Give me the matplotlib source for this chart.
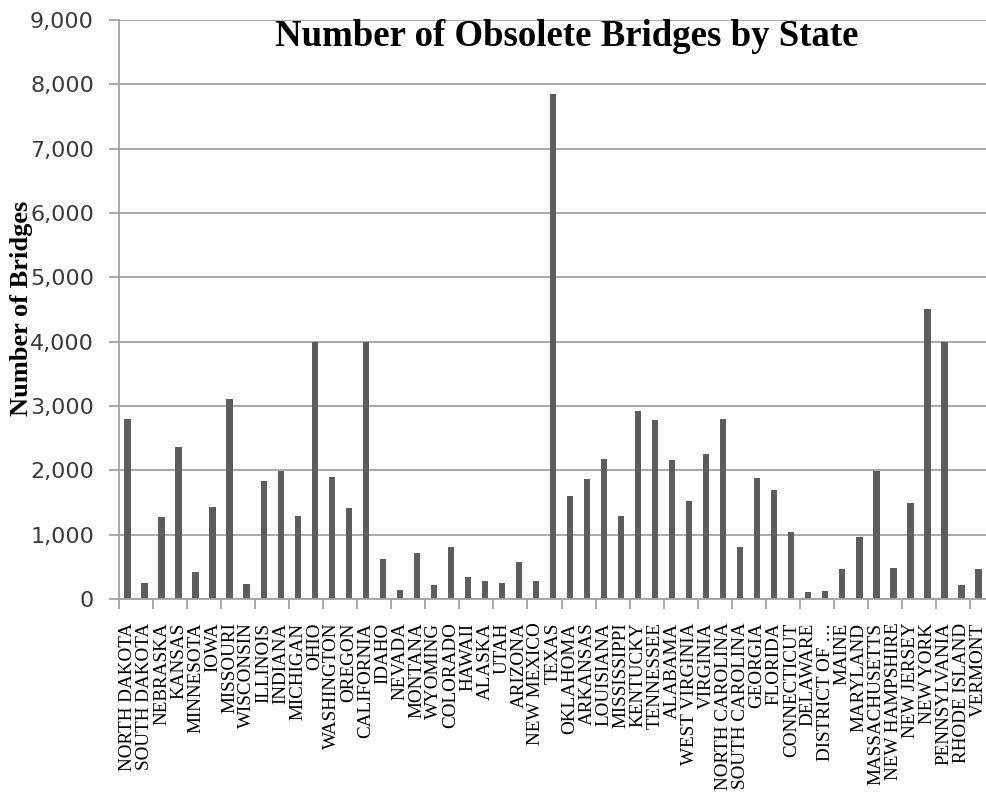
# Bar chart of obsolete bridges per state, redrawn from a spreadsheet chart.

# imports
import numpy as np
import matplotlib
matplotlib.use('Agg')
import matplotlib.pyplot as plt
from matplotlib.ticker import FuncFormatter, FixedLocator

# data
states = ['NORTH DAKOTA', 'SOUTH DAKOTA', 'NEBRASKA', 'KANSAS', 'MINNESOTA',
          'IOWA', 'MISSOURI', 'WISCONSIN', 'ILLINOIS', 'INDIANA', 'MICHIGAN',
          'OHIO', 'WASHINGTON', 'OREGON', 'CALIFORNIA', 'IDAHO', 'NEVADA',
          'MONTANA', 'WYOMING', 'COLORADO', 'HAWAII', 'ALASKA', 'UTAH',
          'ARIZONA', 'NEW MEXICO', 'TEXAS', 'OKLAHOMA', 'ARKANSAS',
          'LOUISIANA', 'MISSISSIPPI', 'KENTUCKY', 'TENNESSEE', 'ALABAMA',
          'WEST VIRGINIA', 'VIRGINIA', 'NORTH CAROLINA', 'SOUTH CAROLINA',
          'GEORGIA', 'FLORIDA', 'CONNECTICUT', 'DELAWARE', 'DISTRICT OF \u2026',
          'MAINE', 'MARYLAND', 'MASSACHUSETTS', 'NEW HAMPSHIRE', 'NEW JERSEY',
          'NEW YORK', 'PENNSYLVANIA', 'RHODE ISLAND', 'VERMONT']
bridges = [2800, 245, 1280, 2355, 425,
           1435, 3110, 230, 1840, 1990, 1295,
           4000, 1895, 1420, 4000, 620, 145,
           720, 225, 805, 345, 285, 245,
           580, 285, 7850, 1595, 1860,
           2175, 1295, 2930, 2775, 2155,
           1520, 2260, 2795, 805,
           1875, 1700, 1040, 105, 125,
           465, 965, 1985, 485, 1500,
           4505, 4000, 225, 465]
yticks = [0, 1000, 2000, 3000, 4000, 5000, 6000, 7000, 8000, 9000]

# style
bar_color  = '#5d5d5d'
grid_color = '#a3a3a3'
text_color = '#3a3a3a'

fig = plt.figure(figsize=(9.87, 8.10), dpi=100)
ax = fig.add_axes([119/987., 1-599/810., 868/987., (599-20)/810.])

x = np.arange(len(states))
ax.bar(x, bridges, width=0.37, color=bar_color, zorder=3)

# axes limits and grid
ax.set_xlim(-0.5, len(states)-0.5)
ax.set_ylim(0, 9000)
ax.set_yticks(yticks)
ax.yaxis.set_major_formatter(FuncFormatter(lambda v, p: '{:,.0f}'.format(v)))
ax.grid(axis='y', color=grid_color, linewidth=1.3, zorder=0)
ax.set_axisbelow(True)

for side in ['top', 'right']:
    ax.spines[side].set_visible(False)
for side in ['left', 'bottom']:
    ax.spines[side].set_color(grid_color)
    ax.spines[side].set_linewidth(1.3)
    ax.spines[side].set_zorder(4)

# x labels on every category, tick marks every two categories
ax.set_xticks(x)
ax.set_xticklabels(states, rotation=90, family='Liberation Serif',
                   fontsize=13.8, color='black', va='top')
ax.tick_params(axis='x', which='major', length=0, pad=17)
ax.xaxis.set_minor_locator(FixedLocator(np.arange(-0.5, len(states), 2)))
ax.tick_params(axis='x', which='minor', length=7, width=1.3, color=grid_color)

ax.tick_params(axis='y', length=7, width=1.3, color=grid_color, pad=11,
               labelsize=16, labelcolor=text_color)

# titles
fig.text(567/987., 1-37/810., 'Number of Obsolete Bridges by State',
         family='Liberation Serif', weight='bold', fontsize=26.5,
         ha='center', va='center')
fig.text(22/987., 1-308/810., 'Number of Bridges', family='Liberation Serif',
         weight='bold', fontsize=19, rotation=90, ha='center', va='center')

fig.savefig('out.png', dpi=100)
